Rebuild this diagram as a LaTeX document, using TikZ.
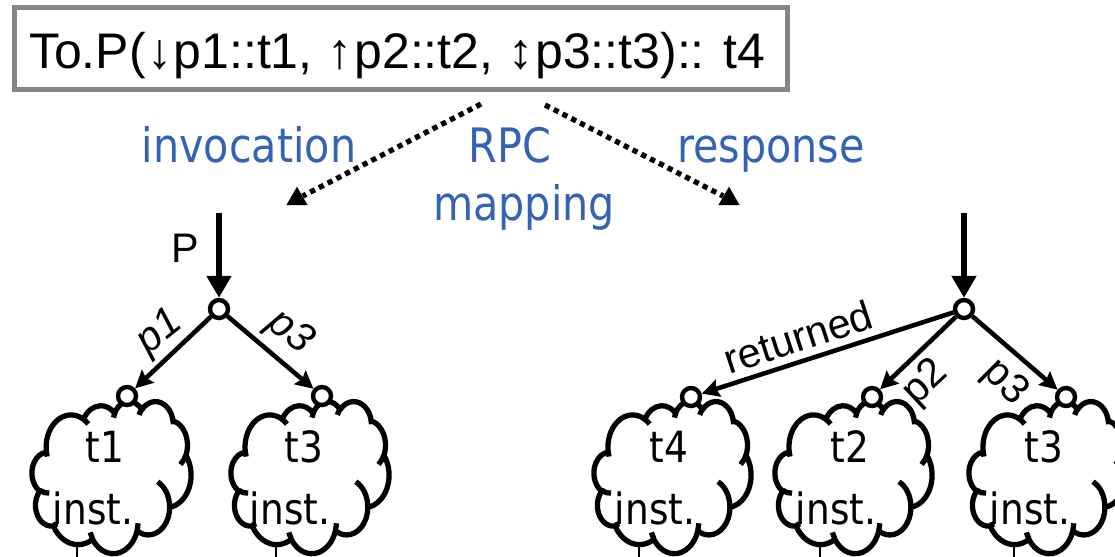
\documentclass[tikz,border=0pt]{standalone}
\usepackage{fontspec}
\setmainfont{Liberation Sans}
\newfontfamily\tah{DejaVu Sans}[FakeStretch=0.87]
\usetikzlibrary{arrows.meta,shapes.geometric}
\definecolor{mapblue}{RGB}{52,98,180}
\definecolor{framegray}{RGB}{133,133,133}
\newdimen\pxu \pxu=0.569055pt
\newcommand\dirarrow[1]{\kern0.03em#1\kern0.03em}

% elliptical arc given by its visual start angle and sweep (degrees)
\newcommand\ooarc[4]{%
  \pgfextra{%
    \pgfmathsetmacro\ooS{atan2(sin(#3)/#2,cos(#3)/#1)}%
    \pgfmathsetmacro\ooE{atan2(sin(#3+#4)/#2,cos(#3+#4)/#1)}%
    \pgfmathsetmacro\ooD{mod(\ooE-\ooS+720,360)}%
    \global\let\ooSg\ooS\global\let\ooDg\ooD}%
  arc[start angle=\ooSg,delta angle=\ooDg,x radius=#1,y radius=#2]}

% cloud outline in a 432 x 432 frame placed at (x0,y0) with size w x h,
% plus the lead that leaves its bottom edge
\newcommand\cloudshape[4]{%
  \begin{scope}[shift={(#1,#2)},x={(#3*0.02cm/432,0)},y={(0,-#4*0.02cm/432)}]
    \draw[cloudlead] (123,400) -- (123,460);
    \draw[cloudline] (39,143.7)
      \ooarc{67.53}{91.90}{-190.4875}{123.7805}
      \ooarc{53.33}{72.67}{-144.1024}{89.9452}
      \ooarc{43.65}{59.45}{-145.8079}{99.7230}
      \ooarc{48.57}{65.95}{-130.9861}{117.2417}
      \ooarc{53.33}{72.73}{-78.7089}{109.0269}
      \ooarc{67.75}{92.20}{-46.2673}{130.2690}
      \ooarc{57.85}{78.67}{0.6250}{114.0333}
      \ooarc{67.52}{92.15}{22.4516}{115.1726}
      \ooarc{77.20}{105.43}{66.2426}{75.7110}
      \ooarc{43.60}{59.18}{-274.9421}{146.7356}
      \ooarc{43.45}{59.45}{-246.8285}{152.5189}
      -- cycle;
    \draw[cloudfold]
      (46.93,261.77) \ooarc{43.45}{59.45}{86.7420}{26.4295}
      (69.28,348.99) \ooarc{43.60}{59.18}{73.6105}{11.4475}
      (164.78,390.90) \ooarc{67.52}{92.15}{137.6242}{14.0811}
      (288.27,347.51) \ooarc{67.52}{92.15}{6.4533}{15.9984}
      (341.29,229.54) \ooarc{57.85}{78.67}{-70.2924}{70.9174}
      (417.98,153.54) \ooarc{53.33}{72.73}{30.3180}{27.7515}
      (383.24,54.26) \ooarc{48.57}{65.95}{-13.7443}{14.8589}
      (290.78,39.52) \ooarc{48.57}{65.95}{-149.1815}{18.1954}
      (221.41,47.20) \ooarc{43.65}{59.45}{-163.4943}{17.6864}
      (140.00,51.92) \ooarc{67.53}{91.90}{-66.7070}{12.3194}
      (41.27,157.89) \ooarc{67.53}{91.90}{157.6544}{11.8582};
  \end{scope}}

\begin{document}
\begin{tikzpicture}[x=0.02cm,y=-0.02cm,
  cloudline/.style={line width=3pt,fill=white,line join=round},
  cloudfold/.style={line width=3pt},
  cloudlead/.style={line width=1.3pt},
  dot/.style={circle,draw,line width=2.5pt,fill=white,minimum size=18\pxu,inner sep=0pt},
  edgearrow/.style={line width=2.6pt,-{Stealth[length=10pt,width=10pt,inset=1.5pt]}},
  stem/.style={line width=3.6pt,-{Triangle[length=12.5pt,width=13.5pt]}},
  dotline/.style={line width=3pt,dash pattern=on 3pt off 2.6pt},
  tri/.style={regular polygon,regular polygon sides=3,fill,inner sep=0pt,minimum size=14pt},
  lab/.style={font=\fontsize{23.5pt}{28pt}\selectfont,inner sep=0pt},
  maplab/.style={text=mapblue,font=\tah\fontsize{27pt}{32pt}\selectfont,anchor=base,inner sep=0pt},
  ctext/.style={font=\tah\fontsize{24.5pt}{28pt}\selectfont,anchor=base,inner sep=0pt}]

\useasboundingbox (0,0) rectangle (1115,556);
\clip (0,0) rectangle (1115,556);

% operation signature
\draw[framegray,line width=2.85pt] (14.5,7.5) rectangle (787.5,89.5);
\node[anchor=base,inner sep=0pt,font=\fontsize{28.45pt}{34pt}\selectfont] (sig) at (397,68)
  {To.P(\dirarrow{↓}p1::t1, \dirarrow{↑}p2::t2, \dirarrow{↕}p3::t3):: t4};

% RPC mapping arrows and labels
\coordinate (invs) at (481,104);
\coordinate (ress) at (545,105);
\node[tri] (invt) at (297,199) {};
\node[tri] (rest) at (729,199) {};
\draw[dotline] (invs) -- (invt);
\draw[dotline] (ress) -- (rest);
\node[maplab] (inv) at (249,162) {invocation};
\node[maplab] (rpc) at (510,162) {RPC};
\node[maplab] (map) at (524,220) {mapping};
\node[maplab] (resp) at (771,162) {response};

% clouds
\cloudshape{32}{401}{159}{152}
\cloudshape{231}{401}{158}{152}
\cloudshape{594}{401}{157}{152}
\cloudshape{775}{401}{157}{152}
\cloudshape{969}{401}{157}{152}

\node[ctext] (c1a) at (105,462) {t1};
\node[ctext] (c1b) at (93,524) {inst.};
\node[ctext] (c2a) at (304,462) {t3};
\node[ctext] (c2b) at (290,524) {inst.};
\node[ctext] (c3a) at (669,462) {t4};
\node[ctext] (c3b) at (655,524) {inst.};
\node[ctext] (c4a) at (850,462) {t2};
\node[ctext] (c4b) at (836,524) {inst.};
\node[ctext] (c5a) at (1044,462) {t3};
\node[ctext] (c5b) at (1030,524) {inst.};

% invocation tree
\coordinate (topL) at (219,213);
\node[dot] (rootL) at (219,309) {};
\node[dot] (kidL1) at (127,396) {};
\node[dot] (kidL2) at (322,396) {};
\draw[stem] (topL) -- (rootL);
\draw[edgearrow] (rootL) -- (kidL1);
\draw[edgearrow] (rootL) -- (kidL2);
\node[lab,anchor=base] (lP) at (185,262) {P};
\node[lab,rotate=38.8] (lp1) at (160,333) {\itshape p1};
\node[lab,rotate=-38.8] (lp3) at (290,333) {\itshape p3};

% response tree
\coordinate (topR) at (964,213);
\node[dot] (rootR) at (964,309) {};
\node[dot] (kidR1) at (691,397) {};
\node[dot] (kidR2) at (872,397) {};
\node[dot] (kidR3) at (1066,397) {};
\draw[stem] (topR) -- (rootR);
\draw[edgearrow] (rootR) -- (kidR1);
\draw[edgearrow] (rootR) -- (kidR2);
\draw[edgearrow] (rootR) -- (kidR3);
\node[lab,rotate=18] (lret) at (798,337) {returned};
\node[lab,rotate=43] (lp2) at (926,383) {p2};
\node[lab,rotate=-45] (lp3r) at (1005,383) {p3};
\end{tikzpicture}
\end{document}
